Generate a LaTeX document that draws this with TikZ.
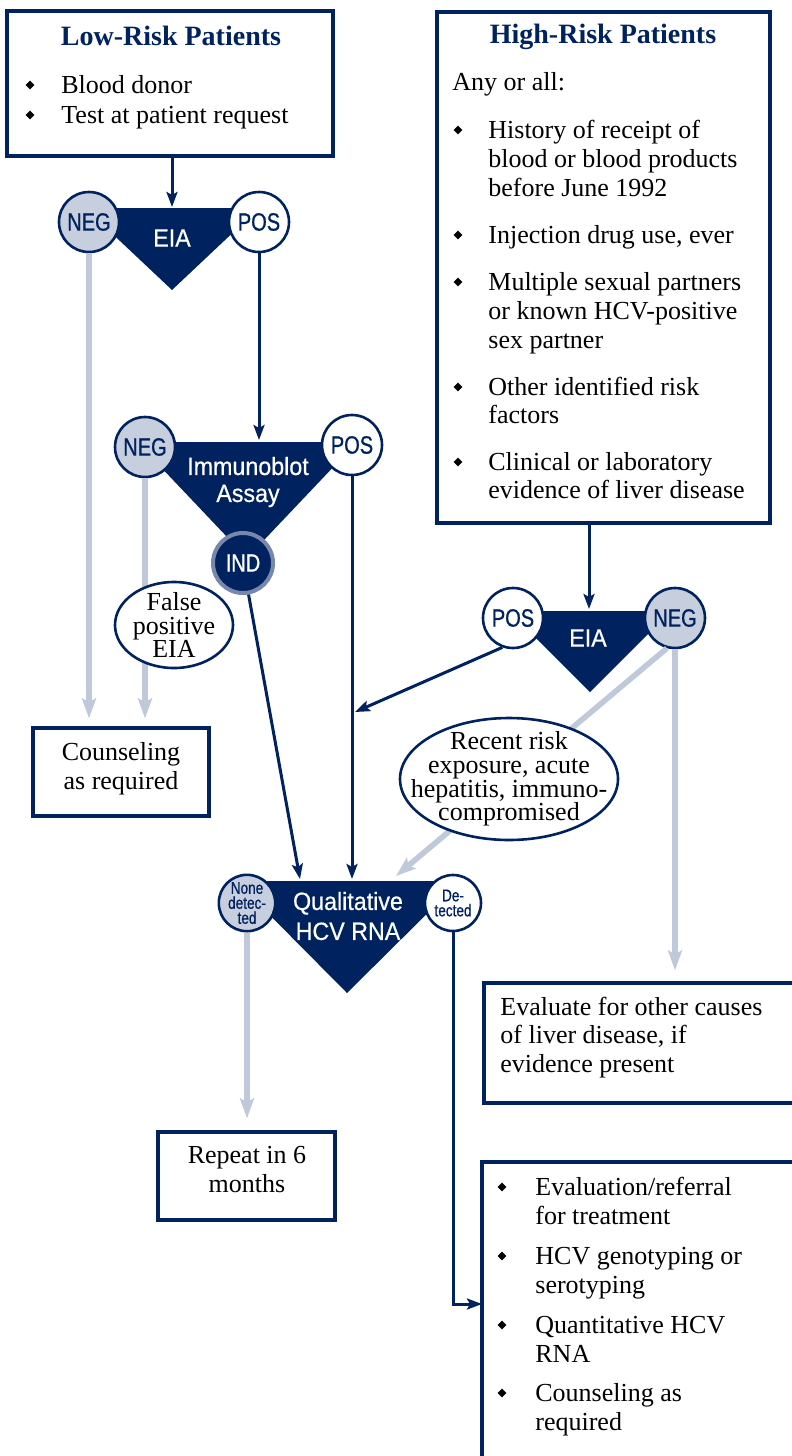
\documentclass[tikz,border=0pt]{standalone}
\usepackage{fontspec}
\setmainfont{Liberation Serif}
\newfontfamily\narrowfont[FakeStretch=0.8,FakeBold=0.8]{Liberation Sans}
\newfontfamily\labelfont[FakeStretch=0.93,FakeBold=0.6]{Liberation Sans}
\usetikzlibrary{arrows.meta,shapes.geometric}
\definecolor{navy}{HTML}{00225E}
\definecolor{haze}{HTML}{C7CFDE}
\definecolor{mist}{HTML}{C0C9DA}
\definecolor{steel}{HTML}{7888AC}
\lineskiplimit=-8pt

\begin{document}
\begin{tikzpicture}[x=0.5pt,y=-0.5pt,>={Stealth[length=7.5pt,width=5.5pt,inset=1.5pt]}]

  \tikzstyle{box}=[draw=navy,line width=1.6pt,fill=white,inner sep=0pt]
  \tikzstyle{txt}=[anchor=base west,inner sep=0pt,font=\fontsize{13}{15}\selectfont]
  \tikzstyle{ctxt}=[txt,anchor=base]
  \tikzstyle{boxtitle}=[ctxt,text=navy,font=\fontsize{14}{16}\selectfont\bfseries]
  \tikzstyle{bul}=[diamond,fill=black,inner sep=0pt,minimum size=4.5pt]
  \tikzstyle{negcirc}=[circle,draw=navy,line width=1.3pt,fill=haze,text=navy,minimum size=30pt,inner sep=0pt,align=center,font=\narrowfont\fontsize{12.5}{14}\selectfont]
  \tikzstyle{poscirc}=[negcirc,fill=white]
  \tikzstyle{indcirc}=[negcirc,fill=navy,draw=steel,line width=2pt,text=white]
  \tikzstyle{rnares}=[minimum size=28pt,font=\narrowfont\fontsize{8.5}{7.5}\selectfont]
  \tikzstyle{testlabel}=[text=white,inner sep=0pt,align=center,font=\labelfont\fontsize{12.5}{13.5}\selectfont]
  \tikzstyle{posline}=[->,color=navy,line width=1.5pt]
  \tikzstyle{negline}=[-{Stealth[length=10pt,width=7pt,inset=2pt]},color=mist,line width=2.8pt]
  \tikzstyle{noteoval}=[ellipse,draw=navy,line width=1.3pt,fill=white,inner sep=0pt]
  \tikzstyle{notetxt}=[inner sep=0pt,align=center,font=\fontsize{13}{11.8}\selectfont]

  \useasboundingbox (0,0) rectangle (792,1456);

  \fill[navy] (85,208) -- (259,208) -- (172,290) -- cycle;
  \fill[navy] (137,442) -- (357,442) -- (247,558) -- cycle;
  \fill[navy] (509,611) -- (671,611) -- (590,692) -- cycle;
  \fill[navy] (236,881) -- (460,881) -- (347,993) -- cycle;

  \node[testlabel] (eia1) at (172,238) {EIA};
  \node[testlabel] (blot) at (248,482) {Immunoblot\\Assay};
  \node[testlabel] (eia2) at (588,638) {EIA};
  \node[testlabel,font=\labelfont\fontsize{12.5}{15}\selectfont] (rna) at (348,916) {Qualitative\\HCV RNA};

  \node[negcirc] (neg1) at (89,222) {NEG};
  \node[poscirc] (pos1) at (259,222) {POS};
  \node[negcirc] (neg2) at (145,447) {NEG};
  \node[poscirc] (pos2) at (352,445) {POS};
  \node[indcirc] (ind)  at (243,563) {IND};
  \node[poscirc] (pos3) at (513,618) {POS};
  \node[negcirc] (neg3) at (675,618) {NEG};
  \node[negcirc,rnares] (none) at (247,903) {None\\detec-\\ted};
  \node[poscirc,rnares] (det)  at (453,903) {De-\\tected};

  \node[box,minimum width=163pt,minimum height=72.5pt]   (low)      at (170,83.5)   {};
  \node[box,minimum width=166.5pt,minimum height=255.5pt] (high)    at (603.5,267.5) {};
  \node[box,minimum width=88pt,minimum height=44pt]      (counsel)  at (121,772)    {};
  \node[box,minimum width=88.5pt,minimum height=44pt]    (repeat)   at (246.5,1176) {};
  \node[box,minimum width=158pt,minimum height=60pt]     (evaluate) at (642,1043)   {};
  \node[box,minimum width=159pt,minimum height=154pt]    (followup) at (641,1316)   {};

  \node[boxtitle] (lowtitle)  at (171,46) {Low-Risk Patients};
  \node[boxtitle] (hightitle) at (603,43) {High-Risk Patients};
  \node[txt] (anyall) at (452,90) {Any or all:};

  \foreach \y/\t in {93/Blood donor,123/Test at patient request}
    \node[txt] (low\y) at (61,\y) {\t};
  \foreach \y/\t in {138/History of receipt of,167/blood or blood products,196/before June 1992,
                     243/{Injection drug use, ever},290/Multiple sexual partners,319/or known HCV-positive,
                     348/sex partner,395/Other identified risk,423/factors,470/Clinical or laboratory,
                     498/evidence of liver disease}
    \node[txt] (high\y) at (488,\y) {\t};
  \foreach \y/\t in {1195/{Evaluation/referral},1224/for treatment,1264/HCV genotyping or,1293/serotyping,
                     1333/Quantitative HCV,1362/RNA,1401/Counseling as,1430/required}
    \node[txt] (follow\y) at (535,\y) {\t};
  \foreach \y/\t in {1015/Evaluate for other causes,1043/{of liver disease, if},1072/evidence present}
    \node[txt] (eval\y) at (500,\y) {\t};
  \foreach \y/\t in {760/Counseling,789/as required}
    \node[ctxt] (counsel\y) at (121,\y) {\t};
  \foreach \y/\t in {1163/Repeat in 6,1192/months}
    \node[ctxt] (repeat\y) at (247,\y) {\t};

  \foreach \y in {85,115} \node[bul] (lowb\y) at (30,\y) {};
  \foreach \y in {130,235,282,387,462} \node[bul] (highb\y) at (458,\y) {};
  \foreach \y in {1187,1256,1325,1393} \node[bul] (followb\y) at (502,\y) {};

  \coordinate (eia1in)   at (172,207);
  \coordinate (blotin)   at (259,440);
  \coordinate (eia2in)   at (589,609);
  \coordinate (rnain)    at (352,879);
  \coordinate (indin)    at (300,879);
  \coordinate (merge)    at (355,712);
  \coordinate (riskin)   at (396,876);
  \coordinate (followin) at (482,1304);

  \path[posline] (eia1in |- low.south) edge (eia1in)
                 (pos1) edge (blotin)
                 (pos2) edge (rnain)
                 (ind.280) edge (indin)
                 (eia2in |- high.south) edge (eia2in)
                 (pos3.250) edge (merge);
  \draw[posline] (det) |- (followin);

  \path[negline] (neg1) edge[shorten >=4pt] (neg1 |- counsel.north)
                 (neg2) edge[shorten >=4pt] (neg2 |- counsel.north)
                 (neg3) edge[shorten >=5.5pt] (neg3 |- evaluate.north)
                 (neg3.255) edge (riskin)
                 (none) edge[shorten >=6pt] (none |- repeat.north);

  \node[noteoval,minimum width=59pt,minimum height=43pt] (falsepos) at (174,625) {};
  \node[notetxt] (falsetxt) at (falsepos) {False\\positive\\EIA};
  \node[noteoval,minimum width=109pt,minimum height=61pt] (recent) at (509,779) {};
  \node[notetxt] (recenttxt) at (recent) {Recent risk\\exposure, acute\\hepatitis, immuno-\\compromised};

\end{tikzpicture}
\end{document}
